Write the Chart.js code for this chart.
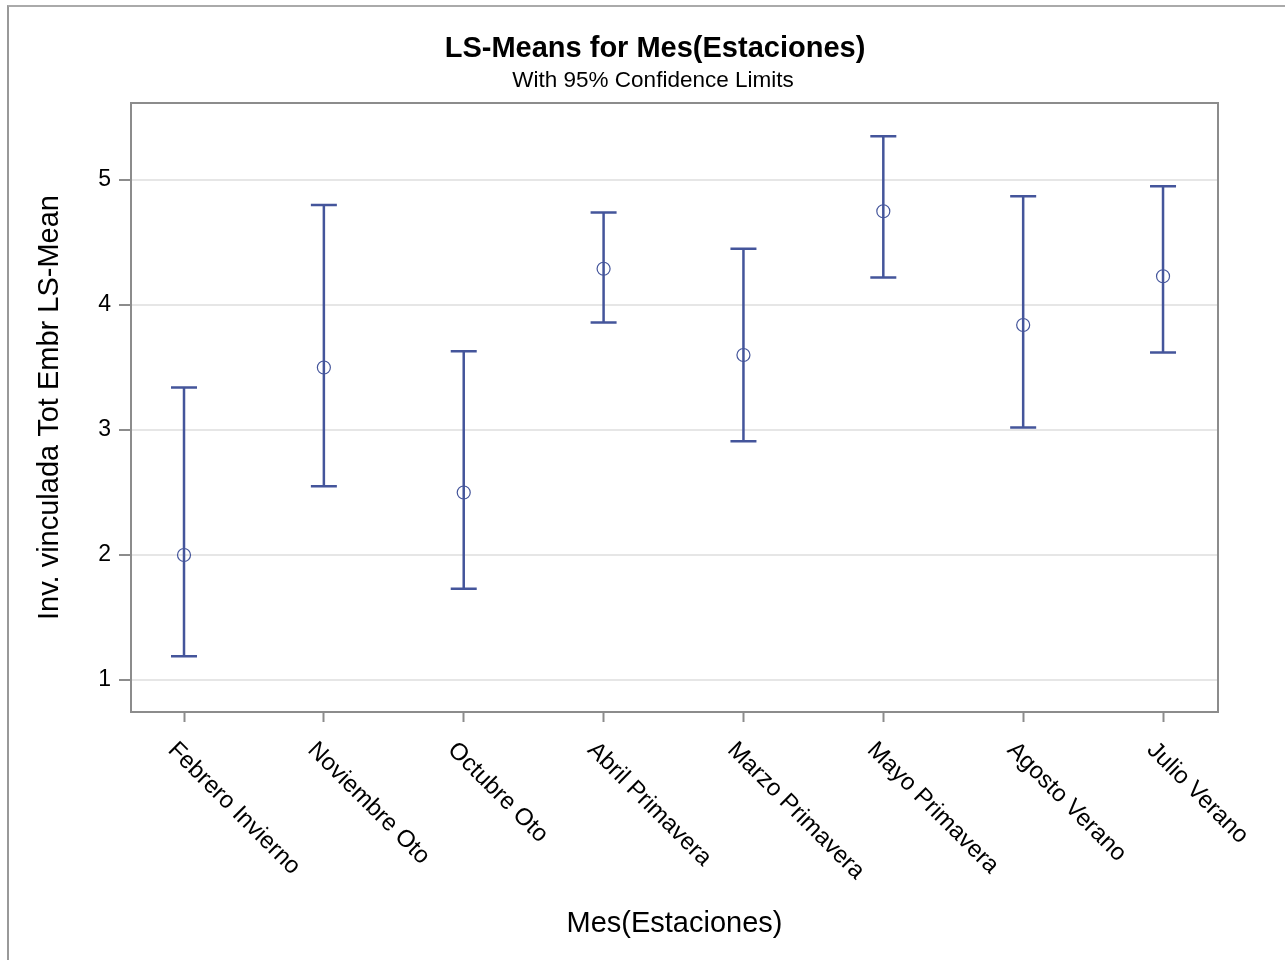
<!DOCTYPE html>
<html>
<head>
<meta charset="utf-8">
<script src="https://cdn.jsdelivr.net/npm/chart.js@4"></script>
<style>
  body { margin: 0; background: #fff; }
  #frame { position: absolute; left: 7px; top: 5px; width: 1290px; height: 970px; border-left: 2px solid #999; border-top: 2px solid #aaa; }
  #chart { position: absolute; left: 0; top: 0; }
</style>
</head>
<body>
<div id="frame"></div>
<canvas id="chart" width="1285" height="960"></canvas>
<script>
// datos
const meses = ['Febrero Invierno', 'Noviembre Oto', 'Octubre Oto', 'Abril Primavera', 'Marzo Primavera', 'Mayo Primavera', 'Agosto Verano', 'Julio Verano'];
const lsMean = [2.00, 3.50, 2.50, 4.29, 3.60, 4.75, 3.84, 4.23];
const lower = [1.19, 2.55, 1.73, 3.86, 2.91, 4.22, 3.02, 3.62];
const upper = [3.34, 4.80, 3.63, 4.74, 4.45, 5.35, 4.87, 4.95];
const yTicks = [1, 2, 3, 4, 5];

const azul = '#44559b';
const gris = '#8c8c8c';
const fuente = '"Liberation Sans", Arial, sans-serif';

// barras de error (limites de confianza)
const errorBars = {
    id: 'errorBars',
    beforeDatasetsDraw(chart) {
        const ctx = chart.ctx;
        const xs = chart.scales.x, ys = chart.scales.y;
        ctx.save();
        ctx.strokeStyle = azul;
        ctx.lineWidth = 2.5;
        meses.forEach((m, i) => {
            const x = xs.getPixelForValue(i);
            const yl = ys.getPixelForValue(lower[i]);
            const yu = ys.getPixelForValue(upper[i]);
            ctx.beginPath();
            ctx.moveTo(x, yl); ctx.lineTo(x, yu);
            ctx.moveTo(x - 13, yl); ctx.lineTo(x + 13, yl);
            ctx.moveTo(x - 13, yu); ctx.lineTo(x + 13, yu);
            ctx.stroke();
        });
        ctx.restore();
    }
};

// titulos, marco y etiquetas giradas del eje x
const extras = {
    id: 'extras',
    afterDraw(chart) {
        const ctx = chart.ctx;
        const a = chart.chartArea;
        const xs = chart.scales.x;
        ctx.save();
        ctx.strokeStyle = gris;
        ctx.lineWidth = 2;
        ctx.strokeRect(a.left, a.top, a.right - a.left, a.bottom - a.top);

        ctx.fillStyle = '#000';
        ctx.textAlign = 'center';
        ctx.textBaseline = 'alphabetic';
        ctx.font = 'bold 29px ' + fuente;
        ctx.fillText('LS-Means for Mes(Estaciones)', 655, 57);
        ctx.font = '22.5px ' + fuente;
        ctx.fillText('With 95% Confidence Limits', 653, 87);

        ctx.font = '24px ' + fuente;
        ctx.textAlign = 'left';
        meses.forEach((m, i) => {
            const x = xs.getPixelForValue(i);
            ctx.save();
            ctx.translate(x - 17, a.bottom + 39);
            ctx.rotate(Math.PI / 4);
            ctx.fillText(m, 0, 0);
            ctx.restore();
        });
        ctx.restore();
    }
};

new Chart(document.getElementById('chart'), {
    type: 'scatter',
    data: {
        datasets: [{
            label: 'LS-Mean',
            data: lsMean.map((v, i) => ({ x: i, y: v })),
            pointStyle: 'circle',
            pointRadius: 6.5,
            pointBorderWidth: 1.2,
            pointBorderColor: azul,
            pointBackgroundColor: 'rgba(0,0,0,0)',
            showLine: false
        }]
    },
    options: {
        responsive: false,
        animation: false,
        devicePixelRatio: 1,
        layout: { padding: { top: 103, right: 67, bottom: 8, left: 8 } },
        plugins: {
            legend: { display: false },
            title: { display: false },
            tooltip: { enabled: false }
        },
        scales: {
            x: {
                type: 'linear',
                min: -0.379,
                max: 7.393,
                afterBuildTicks: s => { s.ticks = meses.map((m, i) => ({ value: i })); },
                afterFit: s => { s.height = 240; },
                ticks: { display: false },
                grid: { drawOnChartArea: false, drawTicks: true, tickLength: 10, tickColor: gris, tickWidth: 2 },
                border: { color: gris, width: 2 },
                title: {
                    display: true,
                    text: 'Mes(Estaciones)',
                    color: '#000',
                    font: { family: fuente, size: 29 },
                    padding: { top: 0, bottom: 11 }
                }
            },
            y: {
                min: 0.744,
                max: 5.616,
                afterBuildTicks: s => { s.ticks = yTicks.map(v => ({ value: v })); },
                afterFit: s => { s.width = 123; },
                ticks: { color: '#000', font: { family: fuente, size: 23 }, padding: 8 },
                grid: { color: '#e6e6e6', lineWidth: 2, drawTicks: true, tickLength: 12, tickColor: gris, tickWidth: 2 },
                border: { color: gris, width: 2 },
                title: {
                    display: true,
                    text: 'Inv. vinculada Tot Embr LS-Mean',
                    color: '#000',
                    font: { family: fuente, size: 29 },
                    padding: { top: 25, bottom: 0 }
                }
            }
        }
    },
    plugins: [errorBars, extras]
});
</script>
</body>
</html>
